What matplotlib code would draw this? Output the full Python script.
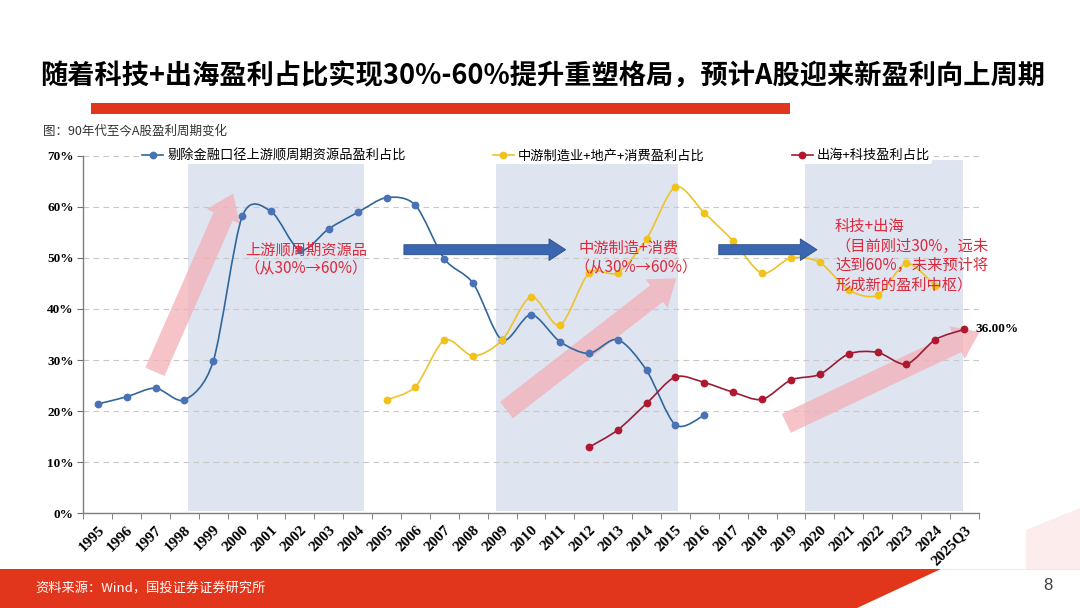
import numpy as np
import matplotlib
matplotlib.use("Agg")
import matplotlib.pyplot as plt
from matplotlib.path import Path
from matplotlib.patches import PathPatch, Rectangle, Polygon
from matplotlib.lines import Line2D
from matplotlib.ticker import FuncFormatter

plt.rcParams['font.family'] = ['Noto Sans CJK SC', 'DejaVu Sans']

# categories
years = ['1995', '1996', '1997', '1998', '1999', '2000', '2001', '2002', '2003', '2004',
         '2005', '2006', '2007', '2008', '2009', '2010', '2011', '2012', '2013', '2014',
         '2015', '2016', '2017', '2018', '2019', '2020', '2021', '2022', '2023', '2024',
         '2025Q3']

# series values (%)
upstream_start = 0   # 1995
upstream = [21.4, 22.8, 24.5, 22.2, 29.8, 58.1, 59.1, 51.5, 55.7, 58.9, 61.8, 60.3,
            49.8, 45.0, 33.9, 38.9, 33.6, 31.3, 34.0, 28.0, 17.3, 19.2]
midstream_start = 10  # 2005
midstream = [22.2, 24.8, 33.9, 30.8, 33.9, 42.4, 36.8, 47.0, 47.1, 53.7, 63.9, 58.8,
             53.3, 47.0, 50.0, 49.1, 43.7, 42.7, 48.9, 44.5]
tech_start = 17  # 2012
tech = [12.9, 16.3, 21.5, 26.7, 25.6, 23.7, 22.3, 26.1, 27.2, 31.2, 31.5, 29.2, 34.0, 36.0]

names = ['剔除金融口径上游顺周期资源品盈利占比', '中游制造业+地产+消费盈利占比', '出海+科技盈利占比']

W, H = 1080, 608
fig = plt.figure(figsize=(W / 100, H / 100), dpi=100)
fig.patch.set_facecolor('white')


def fx(x):
    return x / W


def fy(y):
    return 1 - y / H


ax = fig.add_axes([fx(83.3), fy(513.3), (978.7 - 83.3) / W, (513.3 - 155.7) / H])
ax.set_xlim(-0.5, 30.5)
ax.set_ylim(0, 70)

# shaded periods
for a, b in [(3.13, 9.22), (13.78, 20.09), (24.5, 29.94)]:
    ax.axvspan(a, b, ymin=0.006, ymax=0.987, color='#DFE4F1', lw=0, zorder=0)

ax.set_yticks(np.arange(0, 71, 10))
ax.yaxis.set_major_formatter(FuncFormatter(lambda v, p: '%d%%' % v))
ax.grid(axis='y', color='#C8C8C8', lw=0.8, ls=(0, (5, 4)), zorder=0.5)
ax.set_axisbelow(True)

ax.set_xticks(np.arange(len(years)))
ax.set_xticklabels(years)
ax.set_xticks(np.arange(-0.5, len(years)), minor=True)
ax.tick_params(axis='x', which='major', length=0, pad=7)
ax.tick_params(axis='x', which='minor', length=4, direction='out', color='#707070')
ax.tick_params(axis='y', length=4, direction='out', color='#707070', pad=3)
for lab in ax.get_xticklabels():
    lab.set_rotation(45)
    lab.set_ha('right')
    lab.set_va('top')
    lab.set_rotation_mode('anchor')
    lab.set_family('Liberation Serif')
    lab.set_weight('bold')
    lab.set_fontsize(11)
for lab in ax.get_yticklabels():
    lab.set_family('Liberation Serif')
    lab.set_weight('bold')
    lab.set_fontsize(9.5)

for s in ['top', 'right']:
    ax.spines[s].set_visible(False)
for s in ['left', 'bottom']:
    ax.spines[s].set_color('#7F7F7F')
    ax.spines[s].set_linewidth(1.0)


def smooth(xs, ys):
    # Excel-like smoothed line as cubic Bezier segments through the data points
    pts = np.column_stack([xs, ys]).astype(float)
    n = len(pts)
    verts = [pts[0]]
    codes = [Path.MOVETO]
    for i in range(n - 1):
        p0 = pts[max(i - 1, 0)]
        p1 = pts[i]
        p2 = pts[i + 1]
        p3 = pts[min(i + 2, n - 1)]
        verts += [p1 + (p2 - p0) / 7, p2 - (p3 - p1) / 7, p2]
        codes += [Path.CURVE4] * 3
    return Path(verts, codes)


series = [
    (upstream_start, upstream, '#2F679B', '#4A72B6'),
    (midstream_start, midstream, '#EDC32A', '#F1C21C'),
    (tech_start, tech, '#9A1C33', '#B01830'),
]
handles = []
for start, vals, lc, mc in series:
    xs = np.arange(start, start + len(vals))
    ax.add_patch(PathPatch(smooth(xs, vals), fill=False, edgecolor=lc, lw=1.2, zorder=2))
    ax.plot(xs, vals, 'o', ls='none', color=mc, ms=4.6, zorder=3)
    handles.append(Line2D([], [], color=lc, lw=1.2, marker='o', ms=4.6, mfc=mc, mec=mc))

leg = ax.legend(handles, names, ncol=3, loc='center', bbox_to_anchor=(0.5056, 1.0),
                frameon=True, facecolor='white', edgecolor='none', framealpha=1,
                fontsize=9.5, handlelength=1.6, handletextpad=0.3, columnspacing=6.6,
                borderpad=0.15)
leg.set_zorder(4)

ax.annotate('%.2f%%' % tech[-1], xy=(tech_start + len(tech) - 1, tech[-1]),
            xytext=(8, 0), textcoords='offset points', va='center', ha='left',
            family='Liberation Serif', weight='bold', fontsize=9.5, zorder=5)

# pink trend arrows
pink = dict(arrowstyle='simple,head_width=1.3,head_length=0.9,tail_width=0.75',
            mutation_scale=20, fc='#F2AFB6', ec='none', alpha=0.75, shrinkA=0, shrinkB=0)
for (x0, y0), (x1, y1) in [((1.98, 27.7), (4.69, 62.6)),
                           ((14.15, 20.2), (20.03, 46.0)),
                           ((23.84, 17.6), (30.53, 35.5))]:
    ax.annotate('', xy=(x1, y1), xytext=(x0, y0), arrowprops=pink, zorder=1.5,
                annotation_clip=False)

# blue transition arrows
blue = dict(arrowstyle='simple,head_width=1.3,head_length=1.0,tail_width=0.6',
            mutation_scale=12, fc='#3B66B1', ec='#2B4C86', lw=0.6, shrinkA=0, shrinkB=0)
for x0, x1 in [(10.6, 16.2), (21.5, 24.9)]:
    ax.annotate('', xy=(x1, 51.6), xytext=(x0, 51.6), arrowprops=blue, zorder=4)

red = '#DC2A3C'
fig.text(fx(306), fy(250), '上游顺周期资源品', color=red, fontsize=11, ha='center', va='center')
fig.text(fx(306), fy(268), '（从30%→60%）', color=red, fontsize=11, ha='center', va='center')
fig.text(fx(629), fy(248), '中游制造+消费', color=red, fontsize=11, ha='center', va='center')
fig.text(fx(636), fy(267), '（从30%→60%）', color=red, fontsize=11, ha='center', va='center')
fig.text(fx(835), fy(218), '科技+出海\n（目前刚过30%，远未\n达到60%，未来预计将\n形成新的盈利中枢）',
         color=red, fontsize=11, ha='left', va='top', linespacing=1.2)

# header
fig.text(fx(40), fy(77), '随着科技+出海盈利占比实现30%-60%提升重塑格局，预计A股迎来新盈利向上周期',
         fontsize=19.6, weight='bold', ha='left', va='center', color='black')
fig.patches.append(Rectangle((fx(91), fy(114)), fx(790 - 91), (114 - 103) / H,
                             transform=fig.transFigure, color='#E2361C', lw=0))
fig.text(fx(43), fy(131), '图：90年代至今A股盈利周期变化', fontsize=9, color='#333333',
         ha='left', va='center')

# footer
fig.patches.append(Polygon([(fx(0), fy(569)), (fx(941), fy(569)), (fx(857), fy(608)), (fx(0), fy(608))],
                           closed=True, transform=fig.transFigure, color='#E2361C', lw=0))
fig.patches.append(Polygon([(fx(1026), fy(569)), (fx(1026), fy(530)), (fx(1080), fy(508)), (fx(1080), fy(569))],
                           closed=True, transform=fig.transFigure, color='#FCECEC', lw=0))
fig.lines.append(Line2D([fx(941), fx(1080)], [fy(569), fy(569)], transform=fig.transFigure,
                        color='#EBEBEB', lw=0.8))
fig.text(fx(35), fy(589), '资料来源：Wind，国投证券证券研究所', fontsize=9.5, color='white',
         ha='left', va='center')
fig.text(fx(1048), fy(586), '8', fontsize=12, color='#404040', ha='center', va='center',
         family='Liberation Sans')

fig.savefig('out.png', dpi=100)
